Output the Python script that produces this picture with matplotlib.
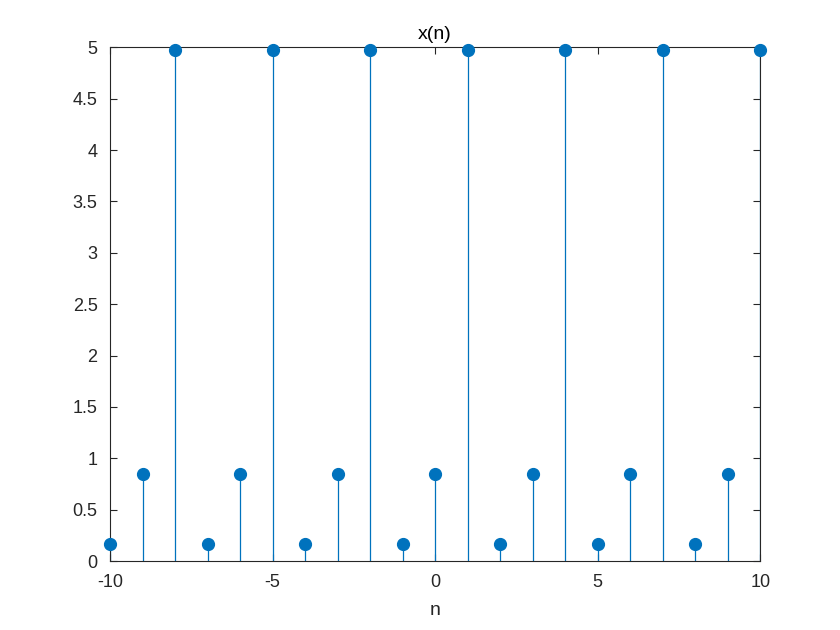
import matplotlib
matplotlib.use('Agg')
import matplotlib.pyplot as plt
import numpy as np

plt.rcParams['font.family'] = ['Liberation Sans', 'DejaVu Sans']
plt.rcParams['axes.unicode_minus'] = False

n = np.arange(-10, 11)
# one period of x(n), repeated every 3 samples starting at n = -10
period_vals = [0.17, 0.85, 4.97]
x = np.array([period_vals[(k + 10) % 3] for k in n])

xticks = [-10, -5, 0, 5, 10]
xtick_labels = ['-10', '-5', '0', '5', '10']
yticks = np.arange(0, 5.01, 0.5)
ytick_labels = ['0', '0.5', '1', '1.5', '2', '2.5', '3', '3.5', '4', '4.5', '5']

col = '#0072BD'
axcol = '#262626'

fig = plt.figure(figsize=(8.4, 6.3), dpi=100)
ax = fig.add_axes([0.131, 0.1095, 0.774, 0.8155])

markerline, stemlines, baseline = ax.stem(n, x, basefmt=' ')
plt.setp(stemlines, color=col, linewidth=0.9)
plt.setp(markerline, color=col, marker='o', markersize=8.5, clip_on=False, zorder=3)
baseline.set_visible(False)

ax.set_xlim(-10, 10)
ax.set_ylim(0, 5)
ax.set_xticks(xticks)
ax.set_xticklabels(xtick_labels)
ax.set_yticks(yticks)
ax.set_yticklabels(ytick_labels)
ax.tick_params(direction='in', top=True, right=True, colors=axcol,
               labelsize=13, length=5, width=0.8)
ax.tick_params(axis='x', pad=9)
ax.tick_params(axis='y', pad=9)
for sp in ax.spines.values():
    sp.set_color(axcol)
    sp.set_linewidth(0.8)
ax.set_title('x(n)', fontsize=14, color='black', pad=6)
ax.set_xlabel('n', fontsize=14, color=axcol, labelpad=8)

fig.savefig('out.png', dpi=100)
